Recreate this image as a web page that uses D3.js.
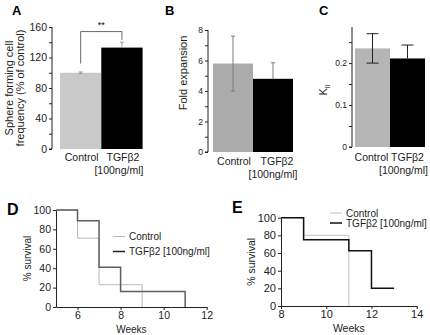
<!DOCTYPE html>
<html>
<head>
<meta charset="utf-8">
<script src="https://cdn.jsdelivr.net/npm/d3@7"></script>
<style>
  body { margin: 0; background: #fff; }
  svg { font-family: "Liberation Sans", Arial, sans-serif; }
  .domain, .tick line { stroke: #222; }
</style>
</head>
<body>
<div id="chart"></div>
<script>
// bar panels A, B, C
const groups = ["Control", "TGFβ2"];
const sphereFreq = [100, 133];
const sphereErr = [1, 7];
const foldExp = [5.8, 4.8];
const foldErr = [1.8, 1.05];
const kii = [0.235, 0.211];
const kiiErr = [0.035, 0.032];

// survival panels D, E (event weeks and % surviving after them)
const dCtrlWeeks = [5, 6, 7, 9];
const dCtrlSurv = [100, 71, 23, 0];
const dTgfWeeks = [5, 6, 7, 8, 11];
const dTgfSurv = [100, 89, 41, 16, 0];
const eCtrlWeeks = [8, 9, 11];
const eCtrlSurv = [100, 80, 0];
const eTgfWeeks = [8, 9, 11, 12, 13];
const eTgfSurv = [100, 75, 62.5, 20, 20];

const svg = d3.select("#chart").append("svg")
    .attr("width", 430)
    .attr("height", 335);

function panelLetter(txt, x, y, size) {
    svg.append("text").attr("x", x).attr("y", y)
        .style("font-weight", "bold").style("font-size", size + "px")
        .text(txt);
}

// generic bar chart with error bars
function barPanel(opt) {
    let y = d3.scaleLinear().domain(opt.domain).range([opt.y0, opt.y1]);
    let x = d3.scaleBand().domain(groups).range(opt.xr).padding(0);

    let axis = d3.axisLeft(y)
        .tickValues(opt.ticks)
        .tickSize(3)
        .tickPadding(2)
        .tickFormat(function (d) { return opt.labels.indexOf(d) >= 0 ? opt.fmt(d) : ""; });
    let ag = svg.append("g")
        .attr("transform", `translate(${opt.ax},0)`)
        .call(axis);
    ag.select(".domain").attr("d", `M-3,${opt.y0}H0V${y(opt.domain[1])}`);
    ag.selectAll("text").style("font-size", opt.tickFont + "px").attr("fill", "#222");

    svg.selectAll(null).data(opt.vals).enter()
        .append("rect")
        .attr("x", function (d, i) { return x(groups[i]); })
        .attr("y", function (d) { return y(d); })
        .attr("width", x.bandwidth())
        .attr("height", function (d) { return opt.y0 - y(d); })
        .attr("fill", function (d, i) { return opt.colors[i]; });

    // error bars (lower whisker hidden inside the black bar)
    opt.vals.forEach(function (v, i) {
        let cx = x(groups[i]) + x.bandwidth() / 2;
        let top = y(v + opt.err[i]);
        let bot = opt.colors[i] === "#000" ? y(v) : y(v - opt.err[i]);
        let g = svg.append("g").attr("stroke", opt.errColor).attr("stroke-width", 1);
        g.append("line").attr("x1", cx).attr("x2", cx).attr("y1", top).attr("y2", bot);
        g.append("line").attr("x1", cx - opt.cap).attr("x2", cx + opt.cap).attr("y1", top).attr("y2", top);
        if (opt.colors[i] !== "#000")
            g.append("line").attr("x1", cx - opt.cap).attr("x2", cx + opt.cap).attr("y1", bot).attr("y2", bot);
    });

    // category labels
    groups.forEach(function (g, i) {
        let cx = x(g) + x.bandwidth() / 2 + opt.labShift[i];
        svg.append("text").attr("x", cx).attr("y", opt.labY)
            .attr("text-anchor", "middle").style("font-size", "10.5px").attr("fill", "#222")
            .text(g);
        if (i === 1) {
            svg.append("text").attr("x", cx - 4).attr("y", opt.labY + 13)
                .attr("text-anchor", "middle").style("font-size", "10.5px").attr("fill", "#222")
                .text("[100ng/ml]");
        }
    });
    return { x: x, y: y };
}

// ---- A
let A = barPanel({
    domain: [0, 160], y0: 149, y1: 27, xr: [60, 142.6], ax: 52,
    ticks: d3.range(0, 161, 20), labels: [0, 40, 80, 120, 160], fmt: d3.format("d"),
    tickFont: 10.5, vals: sphereFreq, err: sphereErr, colors: ["#c9c9c9", "#000"],
    errColor: "#999", cap: 2, labY: 161, labShift: [1, 1]
});
// significance bracket
let ax1 = A.x(groups[0]) + A.x.bandwidth() / 2;
let ax2 = A.x(groups[1]) + A.x.bandwidth() / 2;
svg.append("path")
    .attr("d", `M${ax1},${A.y(112)}V${A.y(154)}H${ax2}V${A.y(143)}`)
    .attr("fill", "none").attr("stroke", "#444").attr("stroke-width", 0.8);
svg.append("text").attr("x", (ax1 + ax2) / 2).attr("y", 28)
    .attr("text-anchor", "middle").style("font-size", "9px").text("**");
svg.append("text")
    .attr("transform", "translate(13,88) rotate(-90)")
    .attr("text-anchor", "middle").style("font-size", "11px").attr("fill", "#222")
    .text("Sphere forming cell");
svg.append("text")
    .attr("transform", "translate(24,88) rotate(-90)")
    .attr("text-anchor", "middle").style("font-size", "11px").attr("fill", "#222")
    .text("frequency (% of control)");
panelLetter("A", 12, 15, 13);

// ---- B
barPanel({
    domain: [0, 8], y0: 152, y1: 30, xr: [213, 293], ax: 208,
    ticks: d3.range(0, 9, 1), labels: [0, 2, 4, 6, 8], fmt: d3.format("d"),
    tickFont: 8.5, vals: foldExp, err: foldErr, colors: ["#ababab", "#000"],
    errColor: "#7a7a7a", cap: 2, labY: 165, labShift: [1, 4]
});
svg.append("text")
    .attr("transform", "translate(187,73) rotate(-90)")
    .attr("text-anchor", "middle").style("font-size", "11px").attr("fill", "#222")
    .text("Fold expansion");
panelLetter("B", 165, 15, 13);

// ---- C
barPanel({
    domain: [0, 0.286], y0: 147, y1: 27, xr: [355, 425], ax: 352,
    ticks: [0, 0.05, 0.1, 0.15, 0.2, 0.25], labels: [0, 0.1, 0.2], fmt: function (d) { return d === 0 ? "0" : d3.format(".1f")(d); },
    tickFont: 8.5, vals: kii, err: kiiErr, colors: ["#b5b5b5", "#000"],
    errColor: "#222", cap: 6, labY: 161, labShift: [-1, 0]
});
let kLab = svg.append("text")
    .attr("transform", "translate(327,90) rotate(-90)")
    .attr("text-anchor", "middle").style("font-size", "11px").attr("fill", "#222");
kLab.append("tspan").text("K");
kLab.append("tspan").attr("dy", 3).style("font-size", "7px").text("II");
panelLetter("C", 319, 15, 13);

// ---- survival curves
function survivalPanel(opt) {
    let x = d3.scaleLinear().domain(opt.xd).range(opt.xr);
    let y = d3.scaleLinear().domain([0, 100]).range(opt.yr);

    let xa = svg.append("g").attr("transform", `translate(0,${opt.yr[0]})`)
        .call(d3.axisBottom(x).tickValues(opt.xticks).tickFormat(d3.format("d"))
            .tickSize(3).tickSizeOuter(0).tickPadding(1.5));
    xa.selectAll("text").style("font-size", opt.xFont + "px").attr("fill", "#222");
    let ya = svg.append("g").attr("transform", `translate(${opt.xr[0]},0)`)
        .call(d3.axisLeft(y).tickValues(d3.range(0, 101, 20)).tickSize(3).tickSizeOuter(0).tickPadding(2));
    ya.selectAll("text").style("font-size", opt.yFont + "px").attr("fill", "#222");

    let line = d3.line()
        .x(function (d) { return x(d[0]); })
        .y(function (d) { return y(d[1]); })
        .curve(d3.curveStepAfter);

    opt.series.forEach(function (s) {
        svg.append("path")
            .datum(d3.zip(s.weeks, s.surv))
            .attr("d", line)
            .attr("fill", "none")
            .attr("stroke", s.color)
            .attr("stroke-width", s.w);
    });

    // legend
    opt.series.forEach(function (s, i) {
        let ly = opt.leg[1] + i * opt.legStep;
        svg.append("line").attr("x1", opt.leg[0]).attr("x2", opt.leg[0] + 12)
            .attr("y1", ly - 3.5).attr("y2", ly - 3.5)
            .attr("stroke", s.legColor).attr("stroke-width", s.w);
        svg.append("text").attr("x", opt.leg[0] + 16).attr("y", ly)
            .style("font-size", "10px").attr("fill", "#222").text(s.name);
    });

    svg.append("text").attr("x", (opt.xr[0] + opt.xr[1]) / 2).attr("y", opt.yr[0] + opt.weeksOff)
        .attr("text-anchor", "middle").style("font-size", opt.titleFont + "px").attr("fill", "#222")
        .text("Weeks");
    svg.append("text")
        .attr("transform", `translate(${opt.xr[0] - opt.yLabOff},${(opt.yr[0] + opt.yr[1]) / 2}) rotate(-90)`)
        .attr("text-anchor", "middle").style("font-size", opt.titleFont + "px").attr("fill", "#222")
        .text("% survival");
}

survivalPanel({
    xd: [5, 12], xr: [56, 206.7], yr: [307, 210], xticks: [6, 8, 10, 12],
    xFont: 10.5, yFont: 10.5, titleFont: 10, yLabOff: 25, weeksOff: 25.5, leg: [113, 240], legStep: 15,
    series: [
        { name: "Control", weeks: dCtrlWeeks, surv: dCtrlSurv, color: "#b8b8b8", legColor: "#b8b8b8", w: 1 },
        { name: "TGFβ2 [100ng/ml]", weeks: dTgfWeeks, surv: dTgfSurv, color: "#5e5e5e", legColor: "#222", w: 1.5 }
    ]
});
panelLetter("D", 7, 215, 16);

survivalPanel({
    xd: [8, 14], xr: [281, 416.7], yr: [306, 217.7], xticks: [8, 10, 12, 14],
    xFont: 11, yFont: 11, titleFont: 10.5, yLabOff: 26, weeksOff: 26, leg: [330, 216.5], legStep: 10,
    series: [
        { name: "Control", weeks: eCtrlWeeks, surv: eCtrlSurv, color: "#cccccc", legColor: "#cccccc", w: 1.2 },
        { name: "TGFβ2 [100ng/ml]", weeks: eTgfWeeks, surv: eTgfSurv, color: "#111", legColor: "#111", w: 1.5 }
    ]
});
panelLetter("E", 232, 213, 16);
</script>
</body>
</html>
